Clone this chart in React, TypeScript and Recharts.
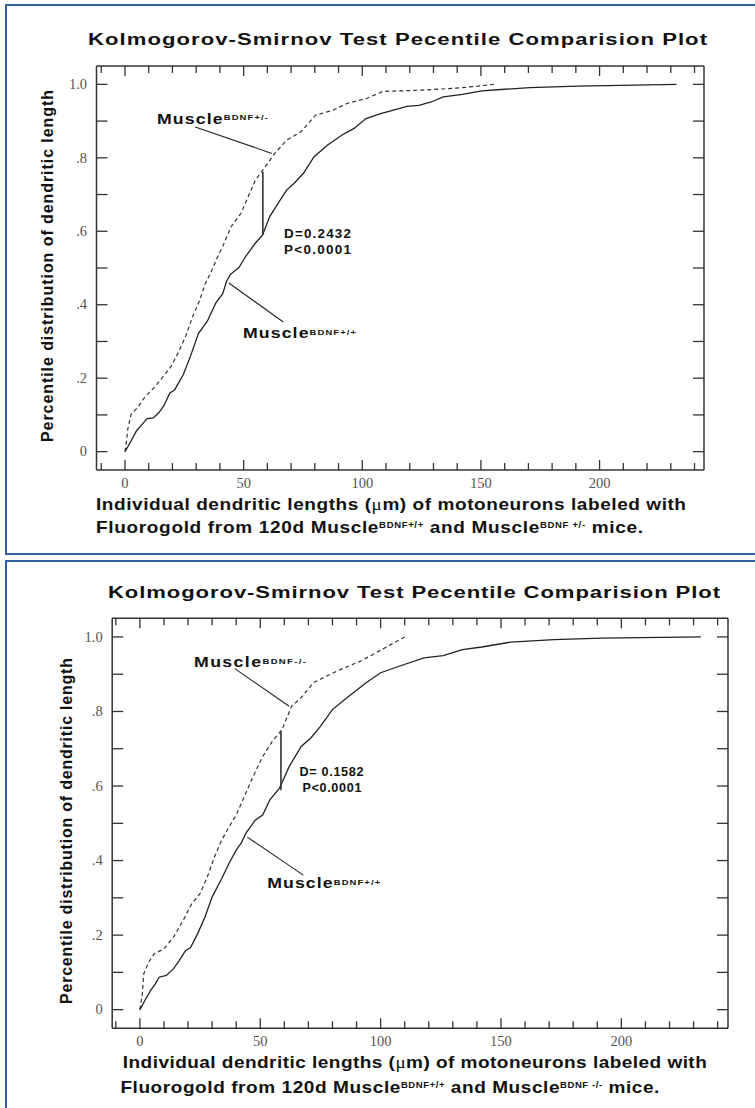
import React from "react";
import { LineChart, Line, XAxis, YAxis, ReferenceLine } from "recharts";

// ---------- data ----------
const topSolidX = [0, 2.2, 4.9, 7.3, 9.3, 12, 14.4, 16.4, 18.9, 20.9, 24.6, 27.6, 31, 34.7, 38.3, 41.2, 42.8, 44.4, 46.8, 47.9, 50.9, 55, 58, 61, 64.1, 68.1, 71.2, 75.2, 79.7, 85.4, 91.5, 96.5, 101.6, 107.7, 112.8, 118.8, 123.9, 129, 134.1, 142.2, 150.3, 158.4, 170.6, 190.9, 232.4];
const topSolidY = [0, 0.025, 0.057, 0.075, 0.09, 0.092, 0.107, 0.125, 0.16, 0.168, 0.21, 0.26, 0.322, 0.355, 0.405, 0.43, 0.464, 0.482, 0.495, 0.5, 0.532, 0.568, 0.59, 0.64, 0.672, 0.712, 0.73, 0.758, 0.803, 0.835, 0.862, 0.88, 0.907, 0.92, 0.929, 0.94, 0.943, 0.952, 0.966, 0.973, 0.982, 0.986, 0.991, 0.995, 1.0];

const topDashX = [0, 0.6, 1.2, 2.6, 5.3, 8.3, 12.4, 17.4, 19.5, 22.5, 25.6, 28.6, 31.6, 33.7, 36.7, 38.8, 41.2, 44.8, 48.9, 51.3, 55, 58.6, 63.1, 68.1, 74.2, 80.3, 87.4, 93.5, 101.6, 108.7, 119.8, 130, 142.2, 155.4];
const topDashY = [0, 0.025, 0.062, 0.102, 0.12, 0.148, 0.175, 0.215, 0.233, 0.27, 0.315, 0.369, 0.414, 0.455, 0.495, 0.527, 0.559, 0.613, 0.649, 0.685, 0.74, 0.771, 0.812, 0.848, 0.871, 0.916, 0.929, 0.948, 0.961, 0.981, 0.983, 0.986, 0.991, 1.0];

const botSolidX = [0, 2, 4.4, 6.4, 8, 11, 14, 16.4, 19, 21, 24, 27, 30, 34, 37, 40, 42, 44, 48, 51, 54, 58, 62, 67, 71, 75, 80, 86, 94, 100, 108, 118, 126, 134, 142, 154, 172, 192, 233];
const botSolidY = [0, 0.024, 0.051, 0.069, 0.087, 0.092, 0.11, 0.132, 0.159, 0.166, 0.204, 0.248, 0.302, 0.352, 0.392, 0.428, 0.446, 0.473, 0.509, 0.522, 0.563, 0.594, 0.652, 0.706, 0.729, 0.76, 0.805, 0.837, 0.877, 0.904, 0.922, 0.944, 0.95, 0.966, 0.973, 0.986, 0.993, 0.997, 1.0];

const botDashX = [0, 1, 1.6, 3.6, 6, 10, 14, 18, 21.6, 25, 28, 31, 34, 37, 40, 44, 47, 51, 55, 59, 63, 67, 72, 82, 92, 101, 110];
const botDashY = [0, 0.042, 0.096, 0.127, 0.15, 0.163, 0.195, 0.24, 0.285, 0.311, 0.356, 0.41, 0.455, 0.49, 0.522, 0.581, 0.625, 0.679, 0.72, 0.751, 0.814, 0.837, 0.877, 0.909, 0.936, 0.968, 1.0];

const xTicks = [-10, 0, 10, 20, 30, 40, 50, 60, 70, 80, 90, 100, 110, 120, 130, 140, 150, 160, 170, 180, 190, 200, 210, 220, 230, 240];
const xTickLabels: Record<string, string> = { "0": "0", "50": "50", "100": "100", "150": "150", "200": "200" };
const yTicks = [0, 0.1, 0.2, 0.3, 0.4, 0.5, 0.6, 0.7, 0.8, 0.9, 1.0];
const yTickLabels = ["0", "", ".2", "", ".4", "", ".6", "", ".8", "", "1.0"];

// annotation segments (data coordinates)
const topDLine = [{ x: 58.1, y: 0.762 }, { x: 58.1, y: 0.59 }];
const topLeaderHet = [{ x: 29.6, y: 0.884 }, { x: 61.9, y: 0.812 }];
const topLeaderWt = [{ x: 43.8, y: 0.459 }, { x: 66.7, y: 0.353 }];
const botDLine = [{ x: 58.6, y: 0.748 }, { x: 58.6, y: 0.589 }];
const botLeaderKo = [{ x: 39.4, y: 0.915 }, { x: 62.0, y: 0.814 }];
const botLeaderWt = [{ x: 44.6, y: 0.463 }, { x: 67.9, y: 0.361 }];

const zip = (xs: number[], ys: number[]) => xs.map((x, i) => ({ x, y: ys[i] }));

// ---------- styles ----------
const AXIS = "#333";
const SANS = "'Liberation Sans', Arial, sans-serif";
const SERIF = "'Liberation Serif', 'Times New Roman', serif";
const TXT = "#111";
const FRAME = "#3560a0";

function BottomTick(props: any) {
  const { x, y, payload } = props;
  const v = payload.value;
  const major = v % 50 === 0;
  const label = xTickLabels[String(v)];
  return (
    <g>
      <line x1={x} x2={x} y1={y} y2={y - (major ? 10 : 7)} stroke={AXIS} strokeWidth={1.3} />
      {label !== undefined && (
        <text x={x} y={y + 17.5} textAnchor="middle" fontSize={14.5} fill="#555" fontFamily={SERIF}>
          {label}
        </text>
      )}
    </g>
  );
}
function TopTick(props: any) {
  const { x, y, payload } = props;
  const major = payload.value % 50 === 0;
  return <line x1={x} x2={x} y1={y} y2={y + (major ? 10 : 7)} stroke={AXIS} strokeWidth={1.3} />;
}
function LeftTick(props: any) {
  const { x, y, index } = props;
  const label = yTickLabels[index];
  return (
    <g>
      <line x1={x} x2={x + 11} y1={y} y2={y} stroke={AXIS} strokeWidth={1.3} />
      {label && (
        <text x={x - 9.5} y={y + 4.7} textAnchor="end" fontSize={14.5} fill="#555" fontFamily={SERIF}>
          {label}
        </text>
      )}
    </g>
  );
}
function RightTick(props: any) {
  const { x, y } = props;
  return <line x1={x} x2={x - 11} y1={y} y2={y} stroke={AXIS} strokeWidth={1.3} />;
}

type Pt = { x: number; y: number };
type PanelProps = {
  height: number;
  margin: { top: number; right: number; bottom: number; left: number };
  xDomain: [number, number];
  solid: Pt[];
  dashed: Pt[];
  dLine: Pt[];
  leaderA: Pt[];
  leaderB: Pt[];
};

function Panel(p: PanelProps) {
  const axisLine = { stroke: AXIS, strokeWidth: 1.5 };
  return (
    <LineChart width={755} height={p.height} margin={p.margin}>
      <XAxis xAxisId="b" orientation="bottom" type="number" dataKey="x" domain={p.xDomain} allowDataOverflow ticks={xTicks} interval={0} tickSize={0} tickMargin={0} tickLine={false} tick={BottomTick} height={30} axisLine={axisLine} />
      <XAxis xAxisId="t" orientation="top" type="number" dataKey="x" domain={p.xDomain} allowDataOverflow ticks={xTicks} interval={0} tickSize={0} tickMargin={0} tickLine={false} tick={TopTick} height={10} axisLine={axisLine} />
      <YAxis yAxisId="l" orientation="left" type="number" dataKey="y" domain={[-0.05, 1.05]} allowDataOverflow ticks={yTicks} interval={0} tickSize={0} tickMargin={0} tickLine={false} tick={LeftTick} width={40} axisLine={axisLine} />
      <YAxis yAxisId="r" orientation="right" type="number" dataKey="y" domain={[-0.05, 1.05]} allowDataOverflow ticks={yTicks} interval={0} tickSize={0} tickMargin={0} tickLine={false} tick={RightTick} width={10} axisLine={axisLine} />
      <Line xAxisId="b" yAxisId="l" data={p.dashed} dataKey="y" type="linear" stroke="#333" strokeWidth={1.2} strokeDasharray="4 3" dot={false} isAnimationActive={false} />
      <Line xAxisId="b" yAxisId="l" data={p.solid} dataKey="y" type="linear" stroke="#222" strokeWidth={1.3} dot={false} isAnimationActive={false} />
      <ReferenceLine xAxisId="b" yAxisId="l" segment={p.dLine} stroke="#333" strokeWidth={1.6} />
      <ReferenceLine xAxisId="b" yAxisId="l" segment={p.leaderA} stroke="#222" strokeWidth={1.1} />
      <ReferenceLine xAxisId="b" yAxisId="l" segment={p.leaderB} stroke="#222" strokeWidth={1.1} />
    </LineChart>
  );
}

const txt = { fontFamily: SANS, fontWeight: 700 as const, fill: TXT, whiteSpace: "pre" as const };

// horizontally stretched text (the reference figure is widened)
function ST({ x, y, sx, len, fs, children }: { x: number; y: number; sx: number; len: number; fs: number; children: React.ReactNode }) {
  return (
    <text transform={`translate(${x},${y}) scale(${sx},1)`} x={0} y={0} fontSize={fs} textLength={len / sx} lengthAdjust="spacing" style={txt}>
      {children}
    </text>
  );
}

function Muscle({ x, y, len, sup }: { x: number; y: number; len: number; sup: string }) {
  return (
    <ST x={x} y={y} sx={1.18} len={len} fs={15}>
      Muscle
      <tspan fontSize={8} dy={-3.8}>{sup}</tspan>
    </ST>
  );
}

function AxisTitle1({ x, y, len }: { x: number; y: number; len: number }) {
  return (
    <ST x={x} y={y} sx={1.12} len={len} fs={17}>
      {"Individual dendritic lengths ("}
      <tspan fontFamily={SERIF} fontWeight={400}>{"μ"}</tspan>
      {"m) of motoneurons labeled with"}
    </ST>
  );
}

function AxisTitle2({ x, y, len, sup2 }: { x: number; y: number; len: number; sup2: string }) {
  return (
    <ST x={x} y={y} sx={1.12} len={len} fs={17}>
      {"Fluorogold from 120d Muscle"}
      <tspan fontSize={8.5} dy={-5}>{"BDNF+/+"}</tspan>
      <tspan fontSize={17} dy={5}>{" and Muscle"}</tspan>
      <tspan fontSize={8.5} dy={-5}>{sup2}</tspan>
      <tspan fontSize={17} dy={5}>{" mice."}</tspan>
    </ST>
  );
}

function YTitle({ x, y, len }: { x: number; y: number; len: number }) {
  return (
    <text transform={`translate(${x},${y}) rotate(-90)`} x={0} y={0} textAnchor="middle" fontSize={16} textLength={len} lengthAdjust="spacing" style={txt}>
      Percentile distribution of dendritic length
    </text>
  );
}

export default function App() {
  return (
    <div style={{ position: "absolute", left: 0, top: 0, width: 755, height: 1108, overflow: "hidden", background: "#fff" }}>
      <div style={{ position: "absolute", left: 5, top: 4, width: 800, height: 551, border: `2.5px solid ${FRAME}`, boxSizing: "border-box" }} />
      <div style={{ position: "absolute", left: 5, top: 560, width: 800, height: 600, border: `2.5px solid ${FRAME}`, boxSizing: "border-box" }} />

      <div style={{ position: "absolute", left: 0, top: 0 }}>
        <Panel
          height={553}
          margin={{ top: 56, right: 41, bottom: 53, left: 56.5 }}
          xDomain={[-12, 244]}
          solid={zip(topSolidX, topSolidY)}
          dashed={zip(topDashX, topDashY)}
          dLine={topDLine}
          leaderA={topLeaderHet}
          leaderB={topLeaderWt}
        />
      </div>
      <div style={{ position: "absolute", left: 0, top: 553 }}>
        <Panel
          height={555}
          margin={{ top: 55.3, right: 17, bottom: 49.7, left: 72.2 }}
          xDomain={[-11.5, 244.3]}
          solid={zip(botSolidX, botSolidY)}
          dashed={zip(botDashX, botDashY)}
          dLine={botDLine}
          leaderA={botLeaderKo}
          leaderB={botLeaderWt}
        />
      </div>

      <svg width={755} height={1108} style={{ position: "absolute", left: 0, top: 0, pointerEvents: "none" }}>
        {/* top panel */}
        <ST x={88} y={45} sx={1.3} len={619} fs={17}>Kolmogorov-Smirnov Test Pecentile Comparision Plot</ST>
        <Muscle x={157} y={124} len={111} sup="BDNF+/-" />
        <ST x={284} y={238.3} sx={1.12} len={67} fs={12}>D=0.2432</ST>
        <ST x={284} y={253.5} sx={1.12} len={67} fs={12}>P&lt;0.0001</ST>
        <Muscle x={243} y={338.3} len={113} sup="BDNF+/+" />
        <AxisTitle1 x={96} y={510} len={590} />
        <AxisTitle2 x={96} y={532.7} len={547} sup2={"BDNF +/-"} />
        <YTitle x={53} y={266} len={352} />

        {/* bottom panel */}
        <ST x={108} y={598.3} sx={1.3} len={612} fs={17}>Kolmogorov-Smirnov Test Pecentile Comparision Plot</ST>
        <Muscle x={194} y={667.3} len={112} sup="BDNF-/-" />
        <ST x={299.5} y={775.7} sx={1.05} len={64} fs={12}>D= 0.1582</ST>
        <ST x={302.4} y={791.7} sx={1.05} len={59} fs={12}>P&lt;0.0001</ST>
        <Muscle x={267.2} y={888.3} len={113} sup="BDNF+/+" />
        <AxisTitle1 x={122.8} y={1068.3} len={584} />
        <AxisTitle2 x={120.4} y={1092.7} len={539} sup2={"BDNF -/-"} />
        <YTitle x={71.7} y={831} len={346} />
      </svg>
    </div>
  );
}
